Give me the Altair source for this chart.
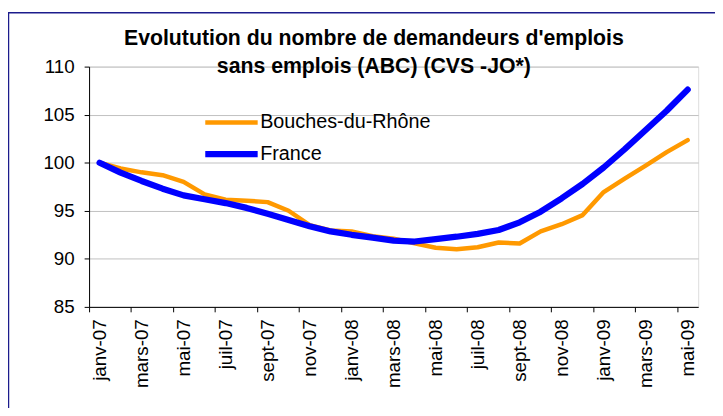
import altair as alt
import pandas as pd

months = [
    "janv-07", "févr-07", "mars-07", "avr-07", "mai-07", "juin-07", "juil-07", "août-07",
    "sept-07", "oct-07", "nov-07", "déc-07",
    "janv-08", "févr-08", "mars-08", "avr-08", "mai-08", "juin-08", "juil-08", "août-08",
    "sept-08", "oct-08", "nov-08", "déc-08",
    "janv-09", "févr-09", "mars-09", "avr-09", "mai-09",
]
bouches_du_rhone = [
    100.0, 99.4, 99.0, 98.7, 98.0, 96.7, 96.15, 96.05, 95.9, 95.0, 93.5, 92.95,
    92.85, 92.35, 92.1, 91.6, 91.15, 91.0, 91.2, 91.7, 91.6, 92.85, 93.6, 94.55,
    96.95, 98.35, 99.7, 101.1, 102.35,
]
france = [
    100.0, 98.97, 98.1, 97.3, 96.6, 96.2, 95.8, 95.3, 94.7, 94.05, 93.4, 92.85,
    92.5, 92.2, 91.9, 91.8, 92.05, 92.3, 92.6, 93.0, 93.8, 94.9, 96.3, 97.8,
    99.5, 101.4, 103.4, 105.4, 107.6,
]
series_names = ["Bouches-du-Rhône", "France"]
series_colors = ["#FF9900", "#0000FF"]
series_widths = [4.5, 6.3]
y_ticks = [85, 90, 95, 100, 105, 110]
x_labels = months[::2]
title_lines = [
    "Evolutution du nombre de demandeurs d'emplois",
    "sans emplois (ABC) (CVS -JO*)",
]

rows = []
for i, m in enumerate(months):
    rows.append({"mois": m, "serie": series_names[0], "valeur": bouches_du_rhone[i]})
    rows.append({"mois": m, "serie": series_names[1], "valeur": france[i]})
df = pd.DataFrame(rows)

FONT = "Liberation Sans"
W, H = 616, 243
step = W / len(months)

x_enc = alt.X(
    "mois:O",
    sort=months,
    scale=alt.Scale(type="point", padding=0.5),
    axis=alt.Axis(
        title=None,
        values=x_labels,
        labelAngle=-90,
        tickOffset=-step / 2,
        labelOffset=step / 2,
        tickSize=5,
        tickColor="#000000",
        domainColor="#000000",
        labelFont=FONT,
        labelFontSize=19,
        labelColor="#000000",
        labelPadding=7,
        grid=False,
    ),
)
y_enc = alt.Y(
    "valeur:Q",
    scale=alt.Scale(domain=[85, 110], nice=False, zero=False),
    axis=alt.Axis(
        title=None,
        values=y_ticks,
        tickSize=5,
        tickColor="#000000",
        domainColor="#000000",
        labelFont=FONT,
        labelFontSize=19,
        labelColor="#000000",
        labelPadding=10,
        grid=True,
        gridColor="#c0c0c0",
        gridWidth=1,
    ),
)

lines = alt.Chart(df).mark_line(strokeCap="round", strokeJoin="round").encode(
    x=x_enc,
    y=y_enc,
    color=alt.Color(
        "serie:N",
        sort=series_names,
        scale=alt.Scale(domain=series_names, range=series_colors),
        legend=alt.Legend(
            title=None,
            orient="none",
            legendX=114,
            legendY=44,
            symbolType="M-1,0L4.3,0",
            symbolSize=400,
            symbolStrokeWidth=5.5,
            labelFont=FONT,
            labelFontSize=20,
            labelColor="#000000",
            labelOffset=32,
            labelLimit=400,
            rowPadding=8,
            padding=0,
        ),
    ),
    strokeWidth=alt.StrokeWidth(
        "serie:N",
        scale=alt.Scale(domain=series_names, range=series_widths),
        legend=None,
    ),
    order=alt.Order("serie:N"),
)

frame = alt.Chart(pd.DataFrame({"k": [0]})).mark_rect(
    fill="transparent", stroke="#1c1c8c", strokeWidth=1.5
).encode(
    x=alt.value(-81.5),
    y=alt.value(-54.5),
    x2=alt.value(800),
    y2=alt.value(600),
)

chart = alt.layer(frame, lines).properties(
    width=W,
    height=H,
    autosize=alt.AutoSizeParams(type="none"),
    padding={"left": 82, "top": 57, "right": 17, "bottom": 100},
    title=alt.TitleParams(
        text=title_lines,
        font=FONT,
        fontSize=21.5,
        fontWeight="bold",
        color="#000000",
        anchor="middle",
        frame="group",
        dx=-20,
        dy=58,
        lineHeight=27.6,
        offset=-8,
    ),
).configure_view(stroke=None).configure(background="white")

chart.save("out.html", embed_options={"renderer": "svg", "actions": False})
